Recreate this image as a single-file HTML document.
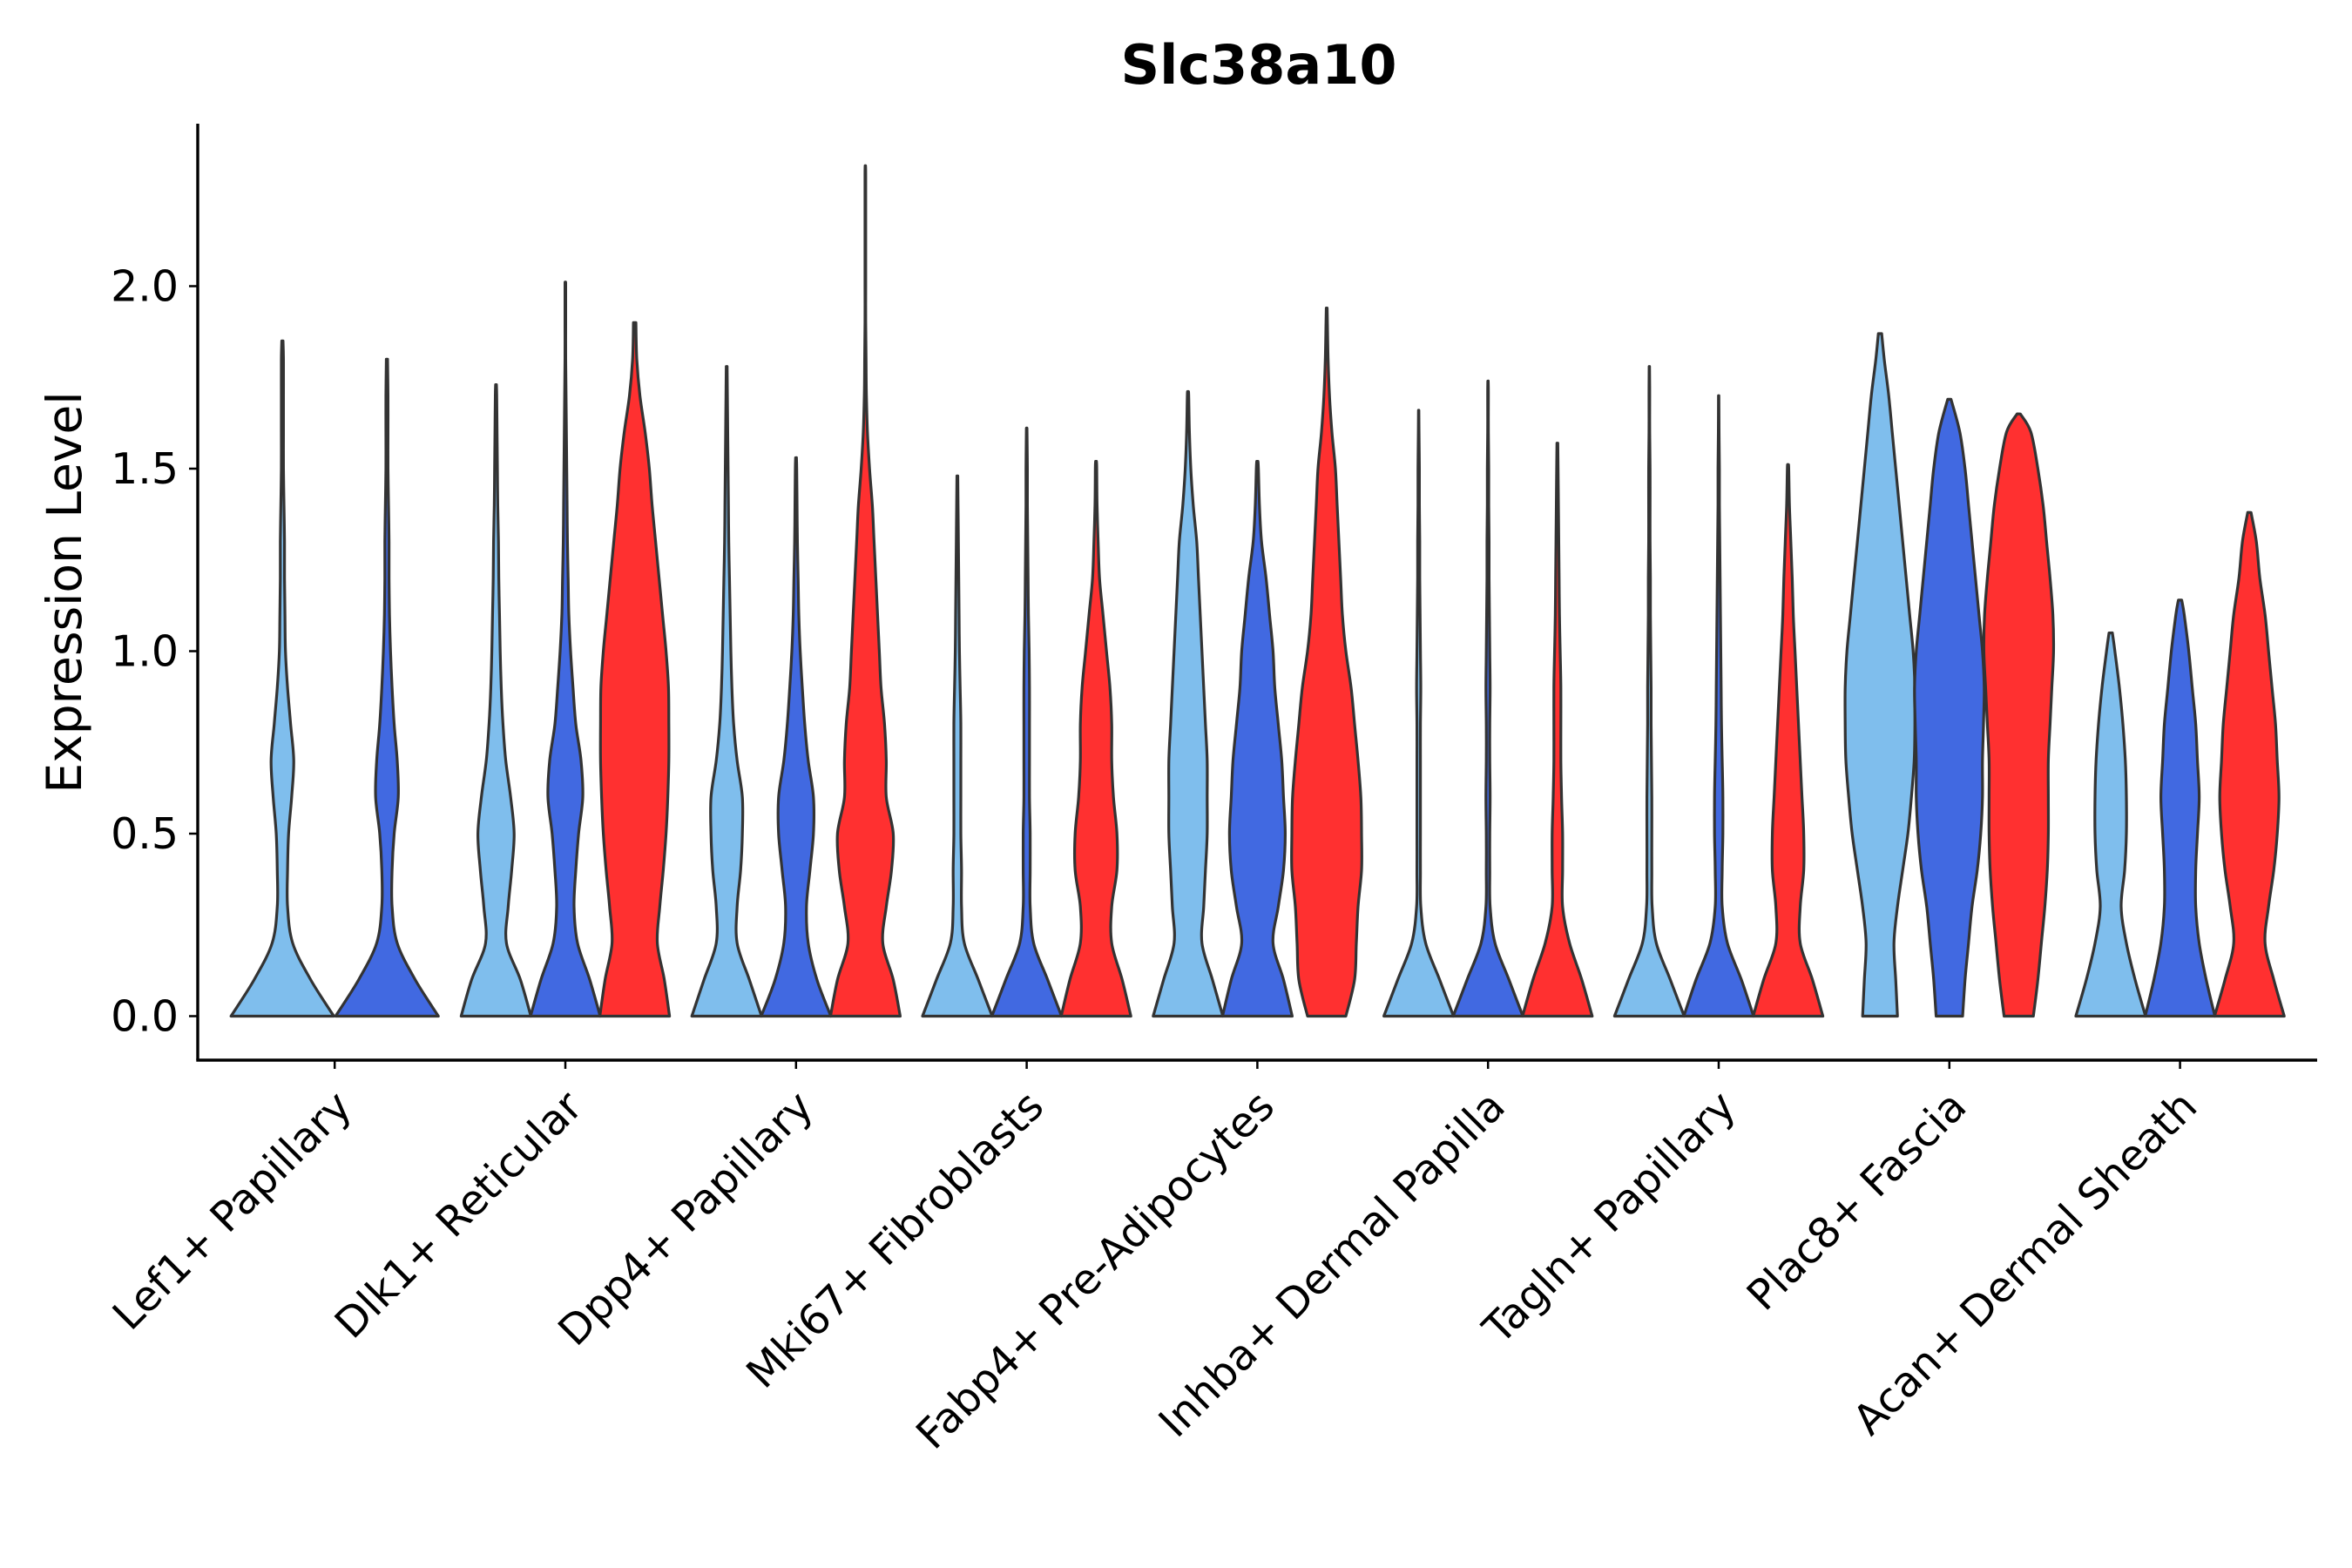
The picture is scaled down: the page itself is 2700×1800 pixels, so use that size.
<!DOCTYPE html>
<html><head><meta charset="utf-8"><style>
html,body{margin:0;padding:0;background:#fff;}
svg{display:block;font-family:"DejaVu Sans","Liberation Sans",sans-serif;}
</style></head><body>
<svg id="chart" width="2700" height="1800" viewBox="0 0 2700 1800" xmlns="http://www.w3.org/2000/svg">
<rect width="2700" height="1800" fill="#fff"/>
<text x="1445" y="96" text-anchor="middle" font-size="62" font-weight="bold" fill="#000">Slc38a10</text>
<text transform="translate(93,680) rotate(-90)" text-anchor="middle" font-size="55" fill="#000">Expression Level</text>
<g id="axes"></g>
<g id="violins"></g>
</svg>
<script>
const categories = ["Lef1+ Papillary","Dlk1+ Reticular","Dpp4+ Papillary","Mki67+ Fibroblasts","Fabp4+ Pre-Adipocytes","Inhba+ Dermal Papilla","Tagln+ Papillary","Plac8+ Fascia","Acan+ Dermal Sheath"];
const yTicks = [0, 0.5, 1.0, 1.5, 2.0];
const yTickLabels = ["0.0","0.5","1.0","1.5","2.0"];
const seriesColors = ["#7fbeed","#4169e1","#ff3030"];
const groupSeries = [[0,1],[0,1,2],[0,1,2],[0,1,2],[0,1,2],[0,1,2],[0,1,2],[0,1,2],[0,1,2]];
const maxValues = [
 [1.85,1.80],[1.73,2.01,1.90],[1.78,1.53,2.33],[1.48,1.61,1.52],[1.71,1.52,1.94],
 [1.66,1.74,1.57],[1.78,1.70,1.51],[1.87,1.69,1.65],[1.05,1.14,1.38]];
const densities = [
 [[1,0.55,0.2,0.1,0.1,0.12,0.18,0.22,0.16,0.1,0.06,0.05,0.04,0.04,0.03,0.02,0.02,0.02,0.02],
  [1,0.55,0.2,0.1,0.1,0.14,0.22,0.2,0.14,0.1,0.07,0.05,0.04,0.04,0.03,0.02,0.02,0.02,0.02]],
 [[1,0.7,0.3,0.35,0.45,0.52,0.42,0.28,0.2,0.15,0.12,0.1,0.08,0.07,0.05,0.04,0.03,0.02],
  [1,0.7,0.35,0.25,0.3,0.38,0.5,0.45,0.3,0.22,0.15,0.1,0.08,0.06,0.05,0.04,0.03,0.02,0.01,0.01,0.01],
  [1,0.85,0.65,0.72,0.82,0.9,0.95,0.98,0.98,0.97,0.9,0.8,0.7,0.6,0.5,0.42,0.3,0.15,0.06,0.02]],
 [[1,0.65,0.3,0.3,0.4,0.45,0.45,0.3,0.2,0.15,0.12,0.1,0.08,0.06,0.05,0.04,0.03,0.02],
  [1,0.6,0.35,0.3,0.4,0.5,0.5,0.35,0.25,0.18,0.12,0.08,0.06,0.04,0.03,0.02],
  [1,0.8,0.5,0.6,0.75,0.8,0.6,0.6,0.55,0.45,0.4,0.35,0.3,0.25,0.2,0.12,0.06,0.03,0.02,0.01,0.01,0.01,0.01,0.01]],
 [[1,0.6,0.2,0.12,0.12,0.1,0.1,0.1,0.1,0.08,0.06,0.05,0.04,0.03,0.02],
  [1,0.6,0.2,0.1,0.1,0.1,0.08,0.08,0.08,0.08,0.07,0.05,0.04,0.03,0.02,0.02,0.01],
  [1,0.75,0.45,0.45,0.6,0.6,0.5,0.45,0.45,0.4,0.3,0.2,0.1,0.06,0.03,0.02]],
 [[1,0.7,0.4,0.45,0.5,0.55,0.55,0.55,0.5,0.45,0.4,0.35,0.3,0.25,0.15,0.08,0.04,0.02],
  [1,0.75,0.45,0.6,0.75,0.8,0.75,0.7,0.6,0.5,0.45,0.35,0.25,0.12,0.06,0.03],
  [0.55,0.8,0.85,0.9,1.0,1.0,0.98,0.9,0.8,0.7,0.55,0.45,0.4,0.35,0.3,0.25,0.15,0.08,0.04,0.02]],
 [[1,0.6,0.2,0.06,0.05,0.05,0.05,0.05,0.05,0.06,0.05,0.04,0.03,0.03,0.02,0.02,0.01],
  [1,0.6,0.2,0.06,0.05,0.05,0.06,0.05,0.05,0.06,0.05,0.04,0.03,0.03,0.02,0.02,0.01,0.01],
  [1,0.7,0.35,0.15,0.15,0.15,0.12,0.1,0.1,0.1,0.08,0.06,0.05,0.04,0.03,0.02]],
 [[1,0.6,0.2,0.08,0.07,0.07,0.07,0.06,0.05,0.05,0.04,0.03,0.03,0.02,0.02,0.02,0.01,0.01],
  [1,0.65,0.25,0.1,0.1,0.12,0.12,0.1,0.08,0.07,0.06,0.05,0.04,0.03,0.02,0.02,0.01],
  [1,0.7,0.35,0.35,0.45,0.45,0.4,0.35,0.3,0.25,0.2,0.15,0.12,0.08,0.04,0.02]],
 [[0.5,0.45,0.4,0.5,0.65,0.8,0.9,0.98,1.0,1.0,0.95,0.85,0.75,0.65,0.55,0.45,0.35,0.25,0.12],
  [0.38,0.45,0.55,0.65,0.8,0.9,0.95,0.95,0.98,1.0,0.95,0.85,0.75,0.65,0.55,0.45,0.3],
  [0.42,0.55,0.65,0.75,0.82,0.85,0.85,0.85,0.9,0.95,1.0,0.98,0.9,0.8,0.7,0.55,0.35]],
 [[1,0.7,0.45,0.3,0.4,0.45,0.45,0.42,0.35,0.25,0.12],
  [1,0.75,0.55,0.45,0.45,0.5,0.55,0.5,0.45,0.35,0.25,0.12],
  [1,0.7,0.45,0.55,0.7,0.8,0.85,0.8,0.75,0.65,0.55,0.45,0.3,0.2]]];

const NS = "http://www.w3.org/2000/svg";
const X0 = 227, X1 = 2660, Y0 = 1166.5, YUNIT = 419, AXY = 1217, AXTOP = 142;
function yScale(v){ return Y0 - v*YUNIT; }
function xCenter(i){ return 384.2 + i*264.8; }
const axes = document.getElementById('axes');
const vg = document.getElementById('violins');
function mk(tag, attrs, parent){ const e=document.createElementNS(NS,tag); for(const k in attrs) e.setAttribute(k,attrs[k]); parent.appendChild(e); return e; }

const yAxis = mk('line',{x1:X0,y1:AXTOP,x2:X0,y2:AXY,stroke:'#000','stroke-width':3.4},axes);


const xAxis = mk('line',{x1:X0-1.7,y1:AXY,x2:X1,y2:AXY,stroke:'#000','stroke-width':3.4},axes);



yTicks.forEach((t,i)=>{
  const y = yScale(t);
  const tk = mk('line',{x1:X0-10,y1:y,x2:X0,y2:y,stroke:'#000','stroke-width':2.5},axes);
  
  
  const lb = mk('text',{x:X0-22,y:y+17,'text-anchor':'end','font-size':49,fill:'#000'},axes);
  lb.textContent = yTickLabels[i];
  
  
});

categories.forEach((c,i)=>{
  const x = xCenter(i);
  const tk = mk('line',{x1:x,y1:AXY,x2:x,y2:AXY+10,stroke:'#000','stroke-width':2.5},axes);
  
  
  const lb = mk('text',{transform:`translate(${x+22},${AXY+56}) rotate(-45)`,'text-anchor':'end','font-size':48,fill:'#000'},axes);
  lb.textContent = c;
  
  
});

function smoothSide(pts){
  let d = '';
  for(let i=0;i<pts.length-1;i++){
    const p0=pts[Math.max(0,i-1)], p1=pts[i], p2=pts[i+1], p3=pts[Math.min(pts.length-1,i+2)];
    const c1=[p1[0]+(p2[0]-p0[0])/6, p1[1]+(p2[1]-p0[1])/6];
    const c2=[p2[0]-(p3[0]-p1[0])/6, p2[1]-(p3[1]-p1[1])/6];
    d += ` C${c1[0].toFixed(1)},${c1[1].toFixed(1)} ${c2[0].toFixed(1)},${c2[1].toFixed(1)} ${p2[0].toFixed(1)},${p2[1].toFixed(1)}`;
  }
  return d;
}

groupSeries.forEach((ser,gi)=>{
  const n = ser.length;
  const off = n===2 ? 120 : 79.6;
  const hw = n===2 ? 59 : 40;
  ser.forEach((s,k)=>{
    const cx = xCenter(gi) + (k-(n-1)/2)*off;
    const dens = densities[gi][k];
    const mx = maxValues[gi][k];
    const prof = [];
    dens.forEach((w,j)=>{ const v=j*0.1; if(v<mx) prof.push([v,w]); });
    prof.push([mx, Math.min(0.08, prof[prof.length-1][1])*0.6]);
    const right = prof.map(p=>[cx+p[1]*hw, yScale(p[0])]);
    const left = prof.slice().reverse().map(p=>[cx-p[1]*hw, yScale(p[0])]);
    let d = `M${cx-prof[0][1]*hw},${Y0} L${right[0][0]},${right[0][1]}` + smoothSide(right)
          + ` L${left[0][0]},${left[0][1]}` + smoothSide(left) + ' Z';
    const p = mk('path',{d:d,fill:seriesColors[s],stroke:'#333','stroke-width':3.2,'stroke-linejoin':'round'},vg);
    
    
  });
});
</script>
</body></html>
